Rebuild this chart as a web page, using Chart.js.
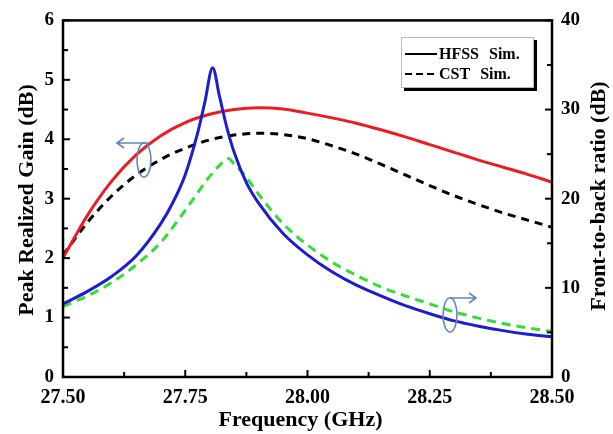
<!DOCTYPE html>
<html>
<head>
<meta charset="utf-8">
<script src="https://cdn.jsdelivr.net/npm/chart.js@4"></script>
<style>
  html, body { margin: 0; padding: 0; background: #fff; }
  #wrap { width: 613px; height: 434px; }
</style>
</head>
<body>
<div id="wrap"><canvas id="c" width="613" height="434"></canvas></div>
<script>
// Frequency grid (GHz) for the gain curves
const gainFreq = [27.50, 27.55, 27.60, 27.65, 27.70, 27.75, 27.80, 27.85, 27.90, 27.95, 28.00,
                  28.05, 28.10, 28.15, 28.20, 28.25, 28.30, 28.35, 28.40, 28.45, 28.50];
// Peak realized gain (dB)
const hfssGain = [2.00, 2.72, 3.30, 3.74, 4.06, 4.28, 4.42, 4.50, 4.53, 4.51, 4.44,
                  4.36, 4.27, 4.16, 4.04, 3.91, 3.78, 3.65, 3.53, 3.41, 3.28];
const cstGain  = [2.05, 2.60, 3.05, 3.40, 3.66, 3.85, 3.99, 4.07, 4.10, 4.08, 4.01,
                  3.89, 3.75, 3.58, 3.40, 3.22, 3.05, 2.90, 2.76, 2.64, 2.52];

// Front-to-back ratio (dB), HFSS
const hfssFbrFreq = [27.50, 27.55, 27.60, 27.65, 27.70, 27.725, 27.75, 27.775, 27.79, 27.806,
                     27.82, 27.835, 27.85, 27.875, 27.90, 27.95, 28.00, 28.05, 28.10, 28.15,
                     28.20, 28.25, 28.30, 28.35, 28.40, 28.45, 28.50];
const hfssFbr     = [8.2, 9.6, 11.3, 13.6, 17.2, 19.6, 22.7, 27.3, 30.8, 34.7,
                     31.5, 28.0, 25.2, 21.8, 19.5, 16.1, 13.7, 11.8, 10.3, 9.1,
                     8.0, 7.1, 6.3, 5.7, 5.2, 4.8, 4.5];
// Front-to-back ratio (dB), CST
const cstFbrFreq = [27.50, 27.55, 27.60, 27.65, 27.70, 27.75, 27.80, 27.825, 27.838, 27.85,
                    27.875, 27.90, 27.95, 28.00, 28.05, 28.10, 28.15, 28.20, 28.25, 28.30,
                    28.35, 28.40, 28.45, 28.50];
const cstFbr     = [7.9, 9.1, 10.6, 12.6, 15.1, 18.7, 22.5, 24.0, 24.5, 23.9,
                    22.4, 20.5, 17.2, 14.8, 12.9, 11.4, 10.1, 9.1, 8.2, 7.3,
                    6.6, 6.0, 5.5, 5.1];

// Axis ticks
const freqTicks = [27.50, 27.75, 28.00, 28.25, 28.50];
const gainTicks = [0, 1, 2, 3, 4, 5, 6];
const fbrTicks  = [0, 10, 20, 30, 40];

const xyPairs = (xs, ys) => xs.map((x, i) => ({ x: x, y: ys[i] }));

const SERIF = '"Liberation Serif", "DejaVu Serif", serif';
const ARROW = '#5f88b8';

// Inward tick marks, frame, titles, legend box and the axis-pointer arrows
const decorPlugin = {
  id: 'decor',
  afterDatasetsDraw(chart) {
    const ctx = chart.ctx;
    const a = chart.chartArea;
    const sx = chart.scales.x, sy = chart.scales.y, sy1 = chart.scales.y1;
    ctx.save();

    // frame
    ctx.strokeStyle = '#000';
    ctx.lineWidth = 2.5;
    ctx.strokeRect(a.left, a.top, a.right - a.left, a.bottom - a.top);

    // tick marks (major + minor), pointing into the plot
    ctx.lineWidth = 2;
    const tick = (x1, y1, x2, y2) => { ctx.beginPath(); ctx.moveTo(x1, y1); ctx.lineTo(x2, y2); ctx.stroke(); };
    for (let i = 0; i < freqTicks.length; i++) {
      const x = sx.getPixelForValue(freqTicks[i]);
      tick(x, a.bottom, x, a.bottom - 7);
      if (i < freqTicks.length - 1) {
        const xm = sx.getPixelForValue((freqTicks[i] + freqTicks[i + 1]) / 2);
        tick(xm, a.bottom, xm, a.bottom - 5);
      }
    }
    for (let i = 0; i < gainTicks.length; i++) {
      const y = sy.getPixelForValue(gainTicks[i]);
      tick(a.left, y, a.left + 7, y);
      if (i < gainTicks.length - 1) {
        const ym = sy.getPixelForValue((gainTicks[i] + gainTicks[i + 1]) / 2);
        tick(a.left, ym, a.left + 5, ym);
      }
    }
    for (let i = 0; i < fbrTicks.length; i++) {
      const y = sy1.getPixelForValue(fbrTicks[i]);
      tick(a.right, y, a.right - 7, y);
      if (i < fbrTicks.length - 1) {
        const ym = sy1.getPixelForValue((fbrTicks[i] + fbrTicks[i + 1]) / 2);
        tick(a.right, ym, a.right - 5, ym);
      }
    }

    // axis titles
    ctx.fillStyle = '#000';
    ctx.textAlign = 'center';
    ctx.textBaseline = 'middle';
    ctx.font = 'bold 22px ' + SERIF;
    ctx.fillText('Frequency (GHz)', (a.left + a.right) / 2 - 7, 420);
    ctx.save();
    ctx.translate(27, 200);
    ctx.rotate(-Math.PI / 2);
    ctx.font = 'bold 22px ' + SERIF;
    ctx.fillText('Peak Realized Gain (dB)', 0, 0);
    ctx.restore();
    ctx.save();
    ctx.translate(599, 196);
    ctx.rotate(-Math.PI / 2);
    ctx.font = 'bold 22px ' + SERIF;
    ctx.fillText('Front-to-back ratio (dB)', 0, 0);
    ctx.restore();

    // legend box with drop shadow
    const bx = 401, by = 37, bw = 133, bh = 51;
    ctx.fillStyle = '#000';
    ctx.fillRect(bx + 3, by + 3, bw, bh);
    ctx.fillStyle = '#fff';
    ctx.fillRect(bx, by, bw, bh);
    ctx.strokeStyle = '#b8b8b8';
    ctx.lineWidth = 1;
    ctx.strokeRect(bx + 0.5, by + 0.5, bw - 1, bh - 1);
    ctx.strokeStyle = '#000';
    ctx.lineWidth = 2;
    ctx.beginPath(); ctx.moveTo(405, 54); ctx.lineTo(437, 54); ctx.stroke();
    ctx.setLineDash([7, 4]);
    ctx.beginPath(); ctx.moveTo(405, 74); ctx.lineTo(437, 74); ctx.stroke();
    ctx.setLineDash([]);
    ctx.fillStyle = '#000';
    ctx.textAlign = 'left';
    ctx.font = 'bold 16px ' + SERIF;
    if ('wordSpacing' in ctx) ctx.wordSpacing = '6px';
    ctx.fillText('HFSS Sim.', 439, 55);
    ctx.fillText('CST Sim.', 439, 75);
    if ('wordSpacing' in ctx) ctx.wordSpacing = '0px';

    // axis pointers: ellipse around the curves, arrow toward the matching axis
    ctx.strokeStyle = ARROW;
    ctx.lineWidth = 1.6;
    const pointer = (cx, cy, ay, x0, x1) => {
      ctx.beginPath();
      ctx.ellipse(cx, cy, 7, 17, 0, 0, Math.PI * 2);
      ctx.stroke();
      ctx.beginPath();
      ctx.moveTo(x0, ay); ctx.lineTo(x1, ay);
      const d = Math.sign(x1 - x0);
      ctx.moveTo(x1 - d * 7, ay - 5); ctx.lineTo(x1, ay); ctx.lineTo(x1 - d * 7, ay + 5);
      ctx.stroke();
    };
    pointer(144, 160, 143, 148, 117);
    pointer(450, 315, 298, 450, 476);

    ctx.restore();
  }
};

new Chart(document.getElementById('c'), {
  type: 'line',
  data: {
    datasets: [
      { label: 'HFSS FBR', data: xyPairs(hfssFbrFreq, hfssFbr), yAxisID: 'y1',
        borderColor: '#1c1cd2', borderWidth: 3 },
      { label: 'CST FBR', data: xyPairs(cstFbrFreq, cstFbr), yAxisID: 'y1',
        borderColor: '#35dc35', borderWidth: 3, borderDash: [9, 6] },
      { label: 'HFSS Gain', data: xyPairs(gainFreq, hfssGain), yAxisID: 'y',
        borderColor: '#ec1c24', borderWidth: 3 },
      { label: 'CST Gain', data: xyPairs(gainFreq, cstGain), yAxisID: 'y',
        borderColor: '#000', borderWidth: 3, borderDash: [8, 6] }
    ]
  },
  options: {
    responsive: false,
    animation: false,
    events: [],
    layout: { padding: { top: 19, left: 0, right: 0, bottom: 0 } },
    elements: {
      point: { radius: 0 },
      line: { cubicInterpolationMode: 'monotone', fill: false, borderCapStyle: 'butt' }
    },
    plugins: { legend: { display: false }, tooltip: { enabled: false } },
    scales: {
      x: {
        type: 'linear', min: 27.5, max: 28.5,
        afterBuildTicks: s => { s.ticks = freqTicks.map(v => ({ value: v })); },
        afterFit: s => { s.height = 57; },
        grid: { display: false, drawTicks: false },
        border: { display: false },
        ticks: { padding: 9, autoSkip: false, maxRotation: 0, color: '#000',
                 font: { family: SERIF, size: 20, weight: 'bold' },
                 callback: v => Number(v).toFixed(2) }
      },
      y: {
        position: 'left', min: 0, max: 6,
        afterBuildTicks: s => { s.ticks = gainTicks.map(v => ({ value: v })); },
        afterFit: s => { s.width = 63; },
        grid: { display: false, drawTicks: false },
        border: { display: false },
        ticks: { padding: 9, color: '#000', font: { family: SERIF, size: 19, weight: 'bold' } }
      },
      y1: {
        position: 'right', min: 0, max: 40,
        afterBuildTicks: s => { s.ticks = fbrTicks.map(v => ({ value: v })); },
        afterFit: s => { s.width = 61; },
        grid: { display: false, drawTicks: false },
        border: { display: false },
        ticks: { padding: 9, color: '#000', font: { family: SERIF, size: 19, weight: 'bold' } }
      }
    }
  },
  plugins: [decorPlugin]
});
</script>
</body>
</html>
